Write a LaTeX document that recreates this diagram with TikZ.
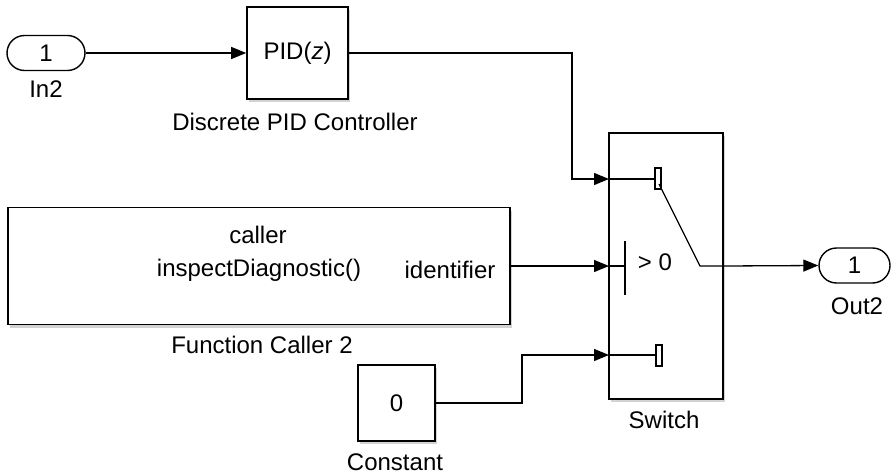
\documentclass[tikz,border=0pt]{standalone}
\usepackage{fontspec}
\setmainfont{Liberation Sans}
\usetikzlibrary{arrows.meta, positioning, shapes.misc, shadows}

\begin{document}
\begin{tikzpicture}[x=1pt, y=-1pt, >={Triangle[length=15pt,width=12pt]},
  font=\fontsize{24}{28}\selectfont,
  wire/.style={line width=1.3pt},
  blk/.style={draw, line width=1.6pt, fill=white, inner sep=0pt,
    drop shadow={shadow xshift=2pt, shadow yshift=-3pt, opacity=0.35}},
  port/.style={draw, rounded rectangle, line width=1.4pt, fill=white,
    minimum height=35pt, inner sep=0pt}]
  \useasboundingbox (0,0) rectangle (891,476);

  % blocks
  \node[port, minimum width=78pt] (in2) at (46,53) {1};
  \node[blk, minimum width=101pt, minimum height=92pt] (pid) at (297.5,53) {PID(\textit{z})};
  \node[blk, minimum width=502pt, minimum height=117pt] (fc) at (259,266) {};
  \node[blk, minimum width=77pt, minimum height=76pt] (const) at (396.5,403) {0};
  \node[blk, minimum width=114pt, minimum height=266pt] (sw) at (666,266) {};
  \node[port, minimum width=71pt] (out2) at (854.5,265.5) {1};

  % function caller text
  \node (fc-caller) at (258,235) {caller};
  \node (fc-fn) at (259,270) {inspectDiagnostic()};
  \node (fc-id) at (450,270) {identifier};

  % switch inside
  \coordinate (sw-in1) at (609,179);
  \coordinate (sw-in2) at (609,266);
  \coordinate (sw-in3) at (609,355);
  \draw[wire] (sw-in1) -- (655,179);
  \draw[line width=1.2pt] (655,168) rectangle (661,189);
  \draw[wire] (sw-in2) -- (625,266);
  \draw[wire] (625,241) -- (625,295);
  \node (sw-thr) at (655,262) {> 0};
  \draw[wire] (sw-in3) -- (656,355);
  \draw[line width=1.2pt] (656,345) rectangle (662,366);
  \draw[wire] (659,184) -- (700,266) -- (sw.east);

  % connectors
  \draw[wire,->] (in2.east) -- (pid.west);
  \draw[wire,->] (pid.east) -- (572,53) |- (sw-in1);
  \draw[wire,->] (fc.east) -- (sw-in2);
  \draw[wire,->] (const.east) -- (522,403) |- (sw-in3);
  \draw[wire,->] (sw.east) -- (out2.west);

  % labels
  \node (in2-lbl) at (46,89) {In2};
  \node (pid-lbl) at (295,122) {Discrete PID Controller};
  \node (fc-lbl) at (262,345) {Function Caller 2};
  \node (const-lbl) at (395,462) {Constant};
  \node (sw-lbl) at (664,420) {Switch};
  \node (out2-lbl) at (857,306) {Out2};
\end{tikzpicture}
\end{document}
